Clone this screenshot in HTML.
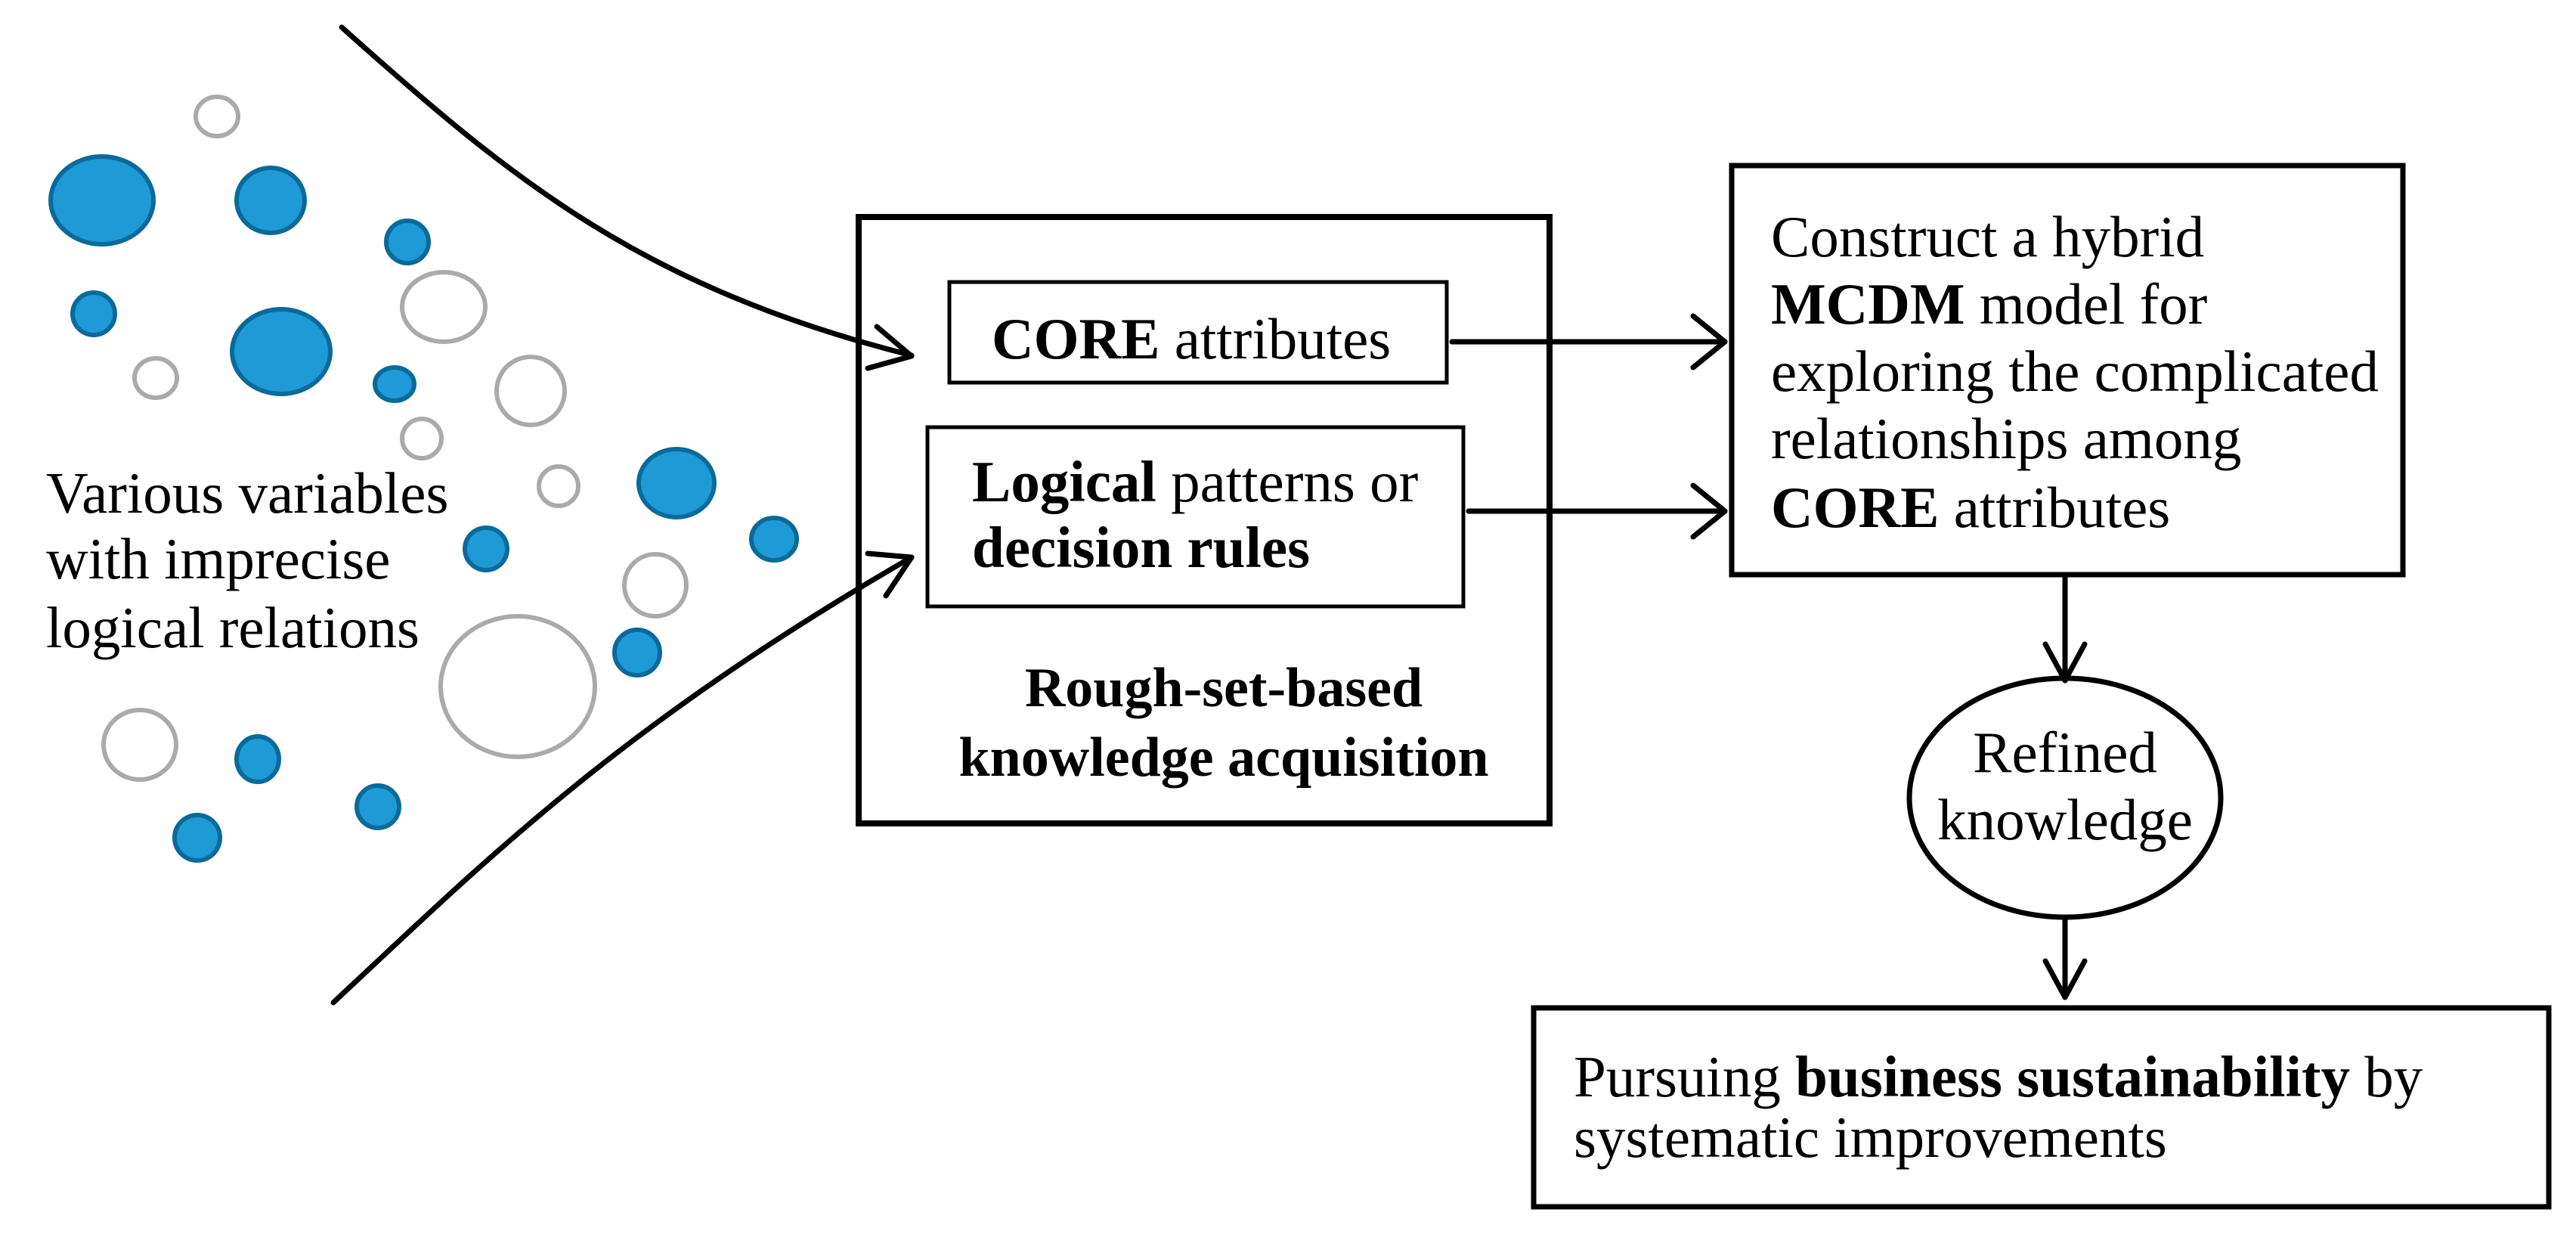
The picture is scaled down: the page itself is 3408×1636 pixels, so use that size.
<!DOCTYPE html>
<html><head><meta charset="utf-8"><style>
html,body{margin:0;padding:0;background:#fff;}
svg{display:block;}
text{font-family:"Liberation Serif",serif;font-size:77px;fill:#000;}
.b{font-weight:bold;}
</style></head><body>
<svg width="3408" height="1636" viewBox="0 0 3408 1636" xmlns="http://www.w3.org/2000/svg">
<g fill="#1e9bd7" stroke="#0a6a9a" stroke-width="6">
<ellipse cx="135" cy="265" rx="68" ry="58"/>
<ellipse cx="358" cy="265" rx="45" ry="43"/>
<ellipse cx="539" cy="320" rx="28" ry="28"/>
<ellipse cx="124" cy="415" rx="28" ry="28"/>
<ellipse cx="372" cy="465" rx="65" ry="56"/>
<ellipse cx="522" cy="508" rx="26" ry="22"/>
<ellipse cx="895" cy="639" rx="50" ry="45"/>
<ellipse cx="1024" cy="713" rx="30" ry="28"/>
<ellipse cx="643" cy="726" rx="28" ry="28"/>
<ellipse cx="843" cy="863" rx="30" ry="30"/>
<ellipse cx="341" cy="1004" rx="28" ry="30"/>
<ellipse cx="261" cy="1108" rx="30" ry="30"/>
<ellipse cx="500" cy="1067" rx="28" ry="28"/>
</g>
<g fill="none" stroke="#aaaaaa" stroke-width="6">
<ellipse cx="287" cy="154" rx="28" ry="26"/>
<ellipse cx="587" cy="406" rx="55" ry="46"/>
<ellipse cx="206" cy="500" rx="28" ry="26"/>
<ellipse cx="702" cy="517" rx="45" ry="45"/>
<ellipse cx="558" cy="580" rx="26" ry="26"/>
<ellipse cx="739" cy="643" rx="26" ry="26"/>
<ellipse cx="867" cy="774" rx="41" ry="41"/>
<ellipse cx="685" cy="908" rx="102" ry="93"/>
<ellipse cx="185" cy="985" rx="48" ry="46"/>
</g>
<g fill="none" stroke="#000" stroke-width="7" stroke-linecap="round" stroke-linejoin="round">
<path d="M452 36 C680 240 850 380 1206 470"/>
<path d="M1160 432 L1206 471 L1148 487"/>
<path d="M441 1326 C640 1140 820 960 1206 737"/>
<path d="M1148 732 L1206 737 L1172 788"/>
<line x1="1921" y1="452" x2="2282" y2="452"/>
<path d="M2240 418 L2282 452 L2240 486"/>
<line x1="1943" y1="676" x2="2282" y2="676"/>
<path d="M2240 642 L2282 676 L2240 710"/>
<line x1="2732" y1="760" x2="2732" y2="900"/>
<path d="M2706 852 L2732 900 L2758 852"/>
<line x1="2732" y1="1213" x2="2732" y2="1319"/>
<path d="M2706 1271 L2732 1319 L2758 1271"/>
</g>
<g fill="none" stroke="#000">
<rect x="1136" y="287" width="914" height="802" stroke-width="8"/>
<rect x="1256" y="373" width="658" height="133" stroke-width="5"/>
<rect x="1227" y="565" width="709" height="237" stroke-width="5"/>
<rect x="2291" y="219" width="888" height="541" stroke-width="7"/>
<ellipse cx="2732" cy="1055" rx="206" ry="158" stroke-width="7"/>
<rect x="2029" y="1333" width="1343" height="263" stroke-width="7"/>
</g>
<text x="61" y="678">Various variables</text>
<text x="61" y="765">with imprecise</text>
<text x="61" y="856">logical relations</text>
<text x="1312" y="474"><tspan class="b">CORE</tspan> attributes</text>
<text x="1286" y="663"><tspan class="b">Logical</tspan> patterns or</text>
<text x="1286" y="750" class="b">decision rules</text>
<text x="1619" y="934" class="b" text-anchor="middle" style="font-size:74px">Rough-set-based</text>
<text x="1619" y="1026" class="b" text-anchor="middle" style="font-size:74px">knowledge acquisition</text>
<text x="2343" y="339">Construct a hybrid</text>
<text x="2343" y="428"><tspan class="b">MCDM</tspan> model for</text>
<text x="2343" y="517">exploring the complicated</text>
<text x="2343" y="606">relationships among</text>
<text x="2343" y="697"><tspan class="b">CORE</tspan> attributes</text>
<text x="2732" y="1021" text-anchor="middle">Refined</text>
<text x="2732" y="1110" text-anchor="middle">knowledge</text>
<text x="2082" y="1450">Pursuing <tspan class="b">business sustainability</tspan> by</text>
<text x="2082" y="1530">systematic improvements</text>
</svg>
</body></html>
